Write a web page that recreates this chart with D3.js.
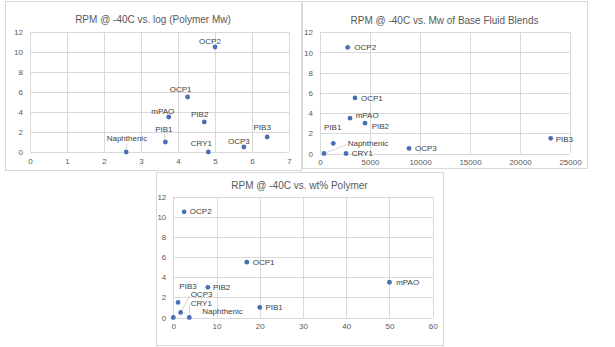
<!DOCTYPE html>
<html>
<head>
<meta charset="utf-8">
<script src="https://cdn.jsdelivr.net/npm/d3@7"></script>
<style>
  html, body { margin: 0; padding: 0; background: #fff; }
  svg { display: block; font-family: "Liberation Sans", Arial, sans-serif; }
</style>
</head>
<body>
<svg id="chart" width="615" height="347"></svg>
<script>
// Blend names and measured values
const blends = ["Naphthenic", "PIB1", "mPAO", "OCP1", "PIB2", "OCP2", "CRY1", "OCP3", "PIB3"];
const rpmAtMinus40 = [0, 1.0, 3.5, 5.5, 3.0, 10.5, 0, 0.5, 1.5];
const logPolymerMw = [2.6, 3.66, 3.75, 4.26, 4.71, 5.0, 4.82, 5.78, 6.41];
const baseFluidMw = [400, 1330, 3000, 3500, 4500, 2770, 2600, 8900, 23070];
const wtPctPolymer = [0, 20, 50, 17, 8, 2.5, 3.7, 1.7, 1.1];

// Axis ticks
const yTicks = [0, 2, 4, 6, 8, 10, 12];
const xTicksLogMw = [0, 1, 2, 3, 4, 5, 6, 7];
const xTicksMw = [0, 5000, 10000, 15000, 20000, 25000];
const xTicksWt = [0, 10, 20, 30, 40, 50, 60];

const titles = [
  "RPM @ -40C vs. log (Polymer Mw)",
  "RPM @ -40C vs. Mw of Base Fluid Blends",
  "RPM @ -40C vs. wt% Polymer"
];

const svg = d3.select("#chart");
const GRID = "#d9d9d9", TXT = "#595959", LBL = "#404040", DOT = "#4a6fb5";

// Label placement per panel: offset from point (px), anchor, optional leader line
const panels = [
  {
    box: [5, 1, 301, 170], title: titles[0], titleY: 19,
    xs: logPolymerMw, xDomain: [0, 7], xRange: [30, 289], xTicks: xTicksLogMw,
    yRange: [152, 32],
    anchor: "middle",
    offsets: {
      Naphthenic: [0.7, -13.3, true], PIB1: [-1.6, -13, true], mPAO: [-6, -6],
      OCP1: [-7, -8], PIB2: [-4.6, -8], OCP2: [-5, -5.3],
      CRY1: [-7, -9], OCP3: [-5, -6], PIB3: [-5, -10]
    }
  },
  {
    box: [302, 1, 587, 168], title: titles[1], titleY: 20,
    xs: baseFluidMw, xDomain: [0, 25000], xRange: [320, 570], xTicks: xTicksMw,
    yRange: [153.5, 32.3],
    anchor: "start",
    offsets: {
      Naphthenic: [23.7, -10.4, true], PIB1: [-9.3, -15.6], mPAO: [5.7, -3],
      OCP1: [6, 1], PIB2: [6.7, 3.7], OCP2: [6.6, 0],
      CRY1: [5.7, 0.3], OCP3: [6, 0.3], PIB3: [5, 1]
    }
  },
  {
    box: [156, 172, 443, 345], title: titles[2], titleY: 185,
    xs: wtPctPolymer, xDomain: [0, 60], xRange: [173.3, 432.7], xTicks: xTicksWt,
    yRange: [317.5, 196.7],
    anchor: "start",
    offsets: {
      Naphthenic: [29, -6], PIB1: [5.7, 0], mPAO: [6.7, 0],
      OCP1: [6, 0.3], PIB2: [5, 0], OCP2: [5.7, 0],
      CRY1: [1.4, -14.5, true], OCP3: [10, -18, true], PIB3: [1.3, -16]
    }
  }
];

panels.forEach(p => {
  const g = svg.append("g");
  const [bx0, by0, bx1, by1] = p.box;

  g.append("rect")
    .attr("x", bx0 + 0.5).attr("y", by0 + 0.5)
    .attr("width", bx1 - bx0).attr("height", by1 - by0)
    .attr("fill", "#fff").attr("stroke", GRID).attr("stroke-width", 1);

  const x = d3.scaleLinear().domain(p.xDomain).range(p.xRange);
  const y = d3.scaleLinear().domain([0, 12]).range(p.yRange);

  // Gridlines
  g.selectAll(".hg").data(yTicks).join("line")
    .attr("x1", p.xRange[0]).attr("x2", p.xRange[1])
    .attr("y1", d => Math.round(y(d)) + 0.5).attr("y2", d => Math.round(y(d)) + 0.5)
    .attr("stroke", GRID).attr("stroke-width", 1);
  g.selectAll(".vg").data(p.xTicks).join("line")
    .attr("x1", d => Math.round(x(d)) + 0.5).attr("x2", d => Math.round(x(d)) + 0.5)
    .attr("y1", p.yRange[0]).attr("y2", p.yRange[1])
    .attr("stroke", GRID).attr("stroke-width", 1);

  // Axes (labels only, Excel-style)
  const yAxis = d3.axisLeft(y).tickValues(yTicks).tickSize(0).tickPadding(7);
  const xAxis = d3.axisBottom(x).tickValues(p.xTicks).tickSize(0).tickPadding(6)
    .tickFormat(d3.format("d"));
  const ya = g.append("g").attr("transform", `translate(${p.xRange[0]},0)`).call(yAxis);
  const xa = g.append("g").attr("transform", `translate(0,${p.yRange[0]})`).call(xAxis);
  [ya, xa].forEach(a => {
    a.select(".domain").remove();
    a.selectAll("text").attr("fill", TXT).style("font-size", "8px")
      .style("font-family", "'Liberation Sans', Arial, sans-serif");
  });

  // Title
  g.append("text")
    .attr("x", (bx0 + bx1) / 2).attr("y", p.titleY)
    .attr("text-anchor", "middle").attr("dominant-baseline", "central")
    .attr("fill", TXT).style("font-size", "10px")
    .text(p.title);

  const pts = blends.map((name, i) => ({ name, px: x(p.xs[i]), py: y(rpmAtMinus40[i]) }));

  // Leader lines
  pts.forEach(d => {
    const o = p.offsets[d.name];
    if (!o[2]) return;
    let lx, ly;
    if (p.anchor === "middle") { lx = d.px + o[0]; ly = d.py + o[1] + 4.5; }
    else { lx = d.px + o[0] - 1; ly = d.py + o[1] + 1.5; }
    const dx = d.px - lx, dy = d.py - ly, len = Math.hypot(dx, dy);
    const ex = d.px - dx / len * 3.2, ey = d.py - dy / len * 3.2;
    g.append("line").attr("x1", lx).attr("y1", ly).attr("x2", ex).attr("y2", ey)
      .attr("stroke", "#c8c8c8").attr("stroke-width", 0.8);
  });

  // Points
  g.selectAll(".dot").data(pts).join("circle")
    .attr("cx", d => d.px).attr("cy", d => d.py).attr("r", 2.4)
    .attr("fill", DOT);

  // Data labels
  g.selectAll(".lbl").data(pts).join("text")
    .attr("x", d => d.px + p.offsets[d.name][0])
    .attr("y", d => d.py + p.offsets[d.name][1])
    .attr("text-anchor", p.anchor).attr("dominant-baseline", "central")
    .attr("fill", LBL).style("font-size", "8px")
    .text(d => d.name);
});
</script>
</body>
</html>
